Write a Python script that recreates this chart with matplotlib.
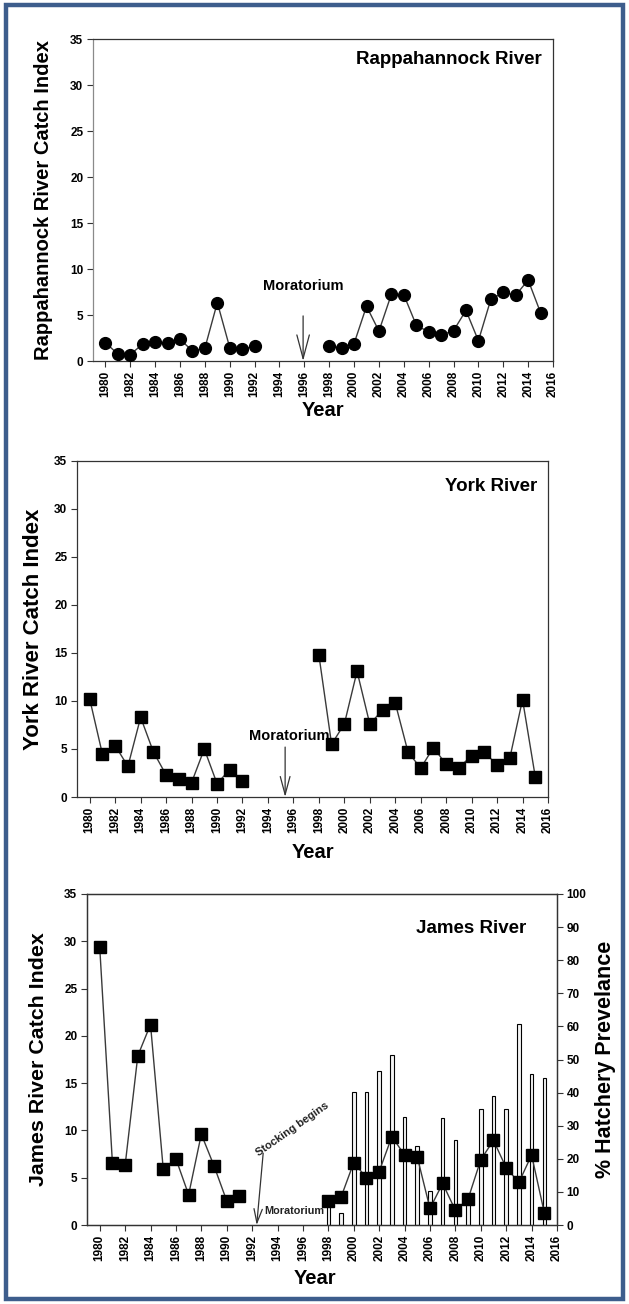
import matplotlib
matplotlib.use("Agg")
import matplotlib.pyplot as plt
import numpy as np
from matplotlib.patches import Rectangle

plt.rcParams['font.family'] = ['Liberation Sans', 'DejaVu Sans']
plt.rcParams['font.weight'] = 'bold'

nan = np.nan
years = list(range(1980, 2016))

rappahannock = [2.0, 0.75, 0.7, 1.85, 2.05, 1.92, 2.35, 1.1, 1.4, 6.35, 1.45, 1.3, 1.6,
                nan, nan, nan, nan, nan,
                1.6, 1.45, 1.9, 5.95, 3.25, 7.25, 7.2, 3.9, 3.15, 2.8, 3.3, 5.5, 2.2,
                6.7, 7.45, 7.15, 8.8, 5.25]

york = [10.2, 4.45, 5.35, 3.2, 8.3, 4.7, 2.3, 1.9, 1.5, 5.0, 1.4, 2.85, 1.7,
        nan, nan, nan, nan, nan,
        14.8, 5.5, 7.6, 13.1, 7.6, 9.05, 9.8, 4.7, 3.0, 5.15, 3.4, 3.05, 4.3,
        4.7, 3.3, 4.05, 10.15, 2.1]

james = [29.4, 6.6, 6.3, 17.9, 21.2, 5.95, 7.0, 3.2, 9.6, 6.25, 2.55, 3.1,
         nan, nan, nan, nan, nan, nan,
         2.55, 2.95, 6.6, 5.0, 5.65, 9.35, 7.4, 7.2, 1.75, 4.4, 1.55, 2.75, 6.9,
         8.95, 6.05, 4.5, 7.4, 1.3]

hatchery_years = list(range(1998, 2016))
hatchery_pct = [7.0, 3.5, 40.3, 40.2, 46.5, 51.4, 32.5, 23.9, 10.3, 32.4, 25.7, 7.5,
                34.9, 39.1, 34.9, 60.6, 45.6, 44.5]

year_ticks = list(range(1980, 2017, 2))
index_ticks = list(range(0, 36, 5))
pct_ticks = list(range(0, 101, 10))

W, H = 629, 1304
fig = plt.figure(figsize=(W / 100, H / 100), dpi=100)
fig.patch.set_facecolor('white')

# blue frame around the whole figure
fig.patches.append(Rectangle((6 / W, 5 / H), (W - 12) / W, (H - 10) / H,
                             transform=fig.transFigure, fill=False,
                             edgecolor='#3d5d8c', linewidth=3.2))


def px_axes(x0, y0, x1, y1):
    return fig.add_axes([x0 / W, 1 - y1 / H, (x1 - x0) / W, (y1 - y0) / H])


def style(ax):
    ax.set_xlim(1979, 2016)
    ax.set_ylim(0, 35)
    ax.set_xticks(year_ticks)
    ax.set_xticklabels([str(y) for y in year_ticks], rotation=90, fontsize=8.5,
                       fontweight='bold')
    ax.set_yticks(index_ticks)
    ax.set_yticklabels([str(v) for v in index_ticks], fontsize=8.5, fontweight='bold')
    ax.tick_params(direction='out', length=4, width=0.8, color='#333333', pad=3)
    for s in ax.spines.values():
        s.set_color('#333333')
        s.set_linewidth(0.9)


line_kw = dict(color='#3a3a3a', linewidth=1.0, markeredgecolor='black',
               markerfacecolor='black', zorder=3)

# Rappahannock River
ax1 = px_axes(93, 39, 553, 361)
style(ax1)
ax1.spines['left'].set_color('#8a8a8a')
ax1.plot(years, rappahannock, marker='o', markersize=8.5, **line_kw)
ax1.text(0.976, 0.935, 'Rappahannock River', transform=ax1.transAxes,
         ha='right', va='center', fontsize=13.5, fontweight='bold')
ax1.set_ylabel('Rappahannock River Catch Index', fontsize=14.5, fontweight='bold')
ax1.yaxis.set_label_coords(-0.087, 0.5)
ax1.text(1995.9, 8.2, 'Moratorium', ha='center', va='center', fontsize=10.5,
         fontweight='bold')
ax1.annotate('', xy=(1995.9, 0), xytext=(1995.9, 4.9),
             arrowprops=dict(arrowstyle='->,head_length=1.7,head_width=0.45',
                             mutation_scale=10, color='#333333', lw=0.9,
                             shrinkA=0, shrinkB=0))
fig.text(323 / W, 1 - 411 / H, 'Year', ha='center', va='center', fontsize=14.5,
         fontweight='bold')

# York River
ax2 = px_axes(77, 461, 548, 797)
style(ax2)
ax2.plot(years, york, marker='s', markersize=8.5, **line_kw)
ax2.text(0.977, 0.923, 'York River', transform=ax2.transAxes,
         ha='right', va='center', fontsize=13.5, fontweight='bold')
ax2.set_ylabel('York River Catch Index', fontsize=16, fontweight='bold')
ax2.yaxis.set_label_coords(-0.070, 0.5)
ax2.text(1995.7, 6.35, 'Moratorium', ha='center', va='center', fontsize=10.5,
         fontweight='bold')
ax2.annotate('', xy=(1995.35, 0), xytext=(1995.35, 5.2),
             arrowprops=dict(arrowstyle='->,head_length=1.3,head_width=0.35',
                             mutation_scale=10, color='#333333', lw=0.9,
                             shrinkA=0, shrinkB=0))
fig.text(313 / W, 1 - 852 / H, 'Year', ha='center', va='center', fontsize=14.5,
         fontweight='bold')

# James River
ax3 = px_axes(87, 894, 557, 1225)
style(ax3)
ax3b = ax3.twinx()
ax3b.bar(hatchery_years, hatchery_pct, width=0.28, facecolor='#f4f4f4',
         edgecolor='black', linewidth=0.8, zorder=1)
ax3b.set_ylim(0, 100)
ax3b.set_yticks(pct_ticks)
ax3b.set_yticklabels([str(v) for v in pct_ticks], fontsize=8.5, fontweight='bold')
ax3b.tick_params(direction='out', length=4, width=0.8, color='#333333', pad=3)
for s in ax3b.spines.values():
    s.set_color('#333333')
    s.set_linewidth(0.9)
ax3b.set_ylabel('% Hatchery Prevelance', fontsize=15.5, fontweight='bold')
ax3b.yaxis.set_label_coords(1.081, 0.5)
ax3.set_zorder(ax3b.get_zorder() + 1)
ax3.patch.set_visible(False)
ax3.plot(years, james, marker='s', markersize=8.5, **line_kw)
ax3.text(0.9355, 0.897, 'James River', transform=ax3.transAxes,
         ha='right', va='center', fontsize=13.5, fontweight='bold')
ax3.set_ylabel('James River Catch Index', fontsize=15.4, fontweight='bold')
ax3.yaxis.set_label_coords(-0.083, 0.5)
ax3.text(1995.3, 1.5, 'Moratorium', ha='center', va='center', fontsize=7.8,
         fontweight='bold', color='#222222')
ax3.text(1995.15, 10.1, 'Stocking begins', ha='center', va='center', fontsize=8,
         fontweight='bold', rotation=35, color='#222222')
ax3.annotate('', xy=(1992.36, 0), xytext=(1992.87, 7.6),
             arrowprops=dict(arrowstyle='->,head_length=1.0,head_width=0.3',
                             mutation_scale=10, color='#333333', lw=0.9,
                             shrinkA=0, shrinkB=0))
fig.text(315 / W, 1 - 1278 / H, 'Year', ha='center', va='center', fontsize=14.5,
         fontweight='bold')

fig.savefig('out.png', dpi=100, facecolor='white')
